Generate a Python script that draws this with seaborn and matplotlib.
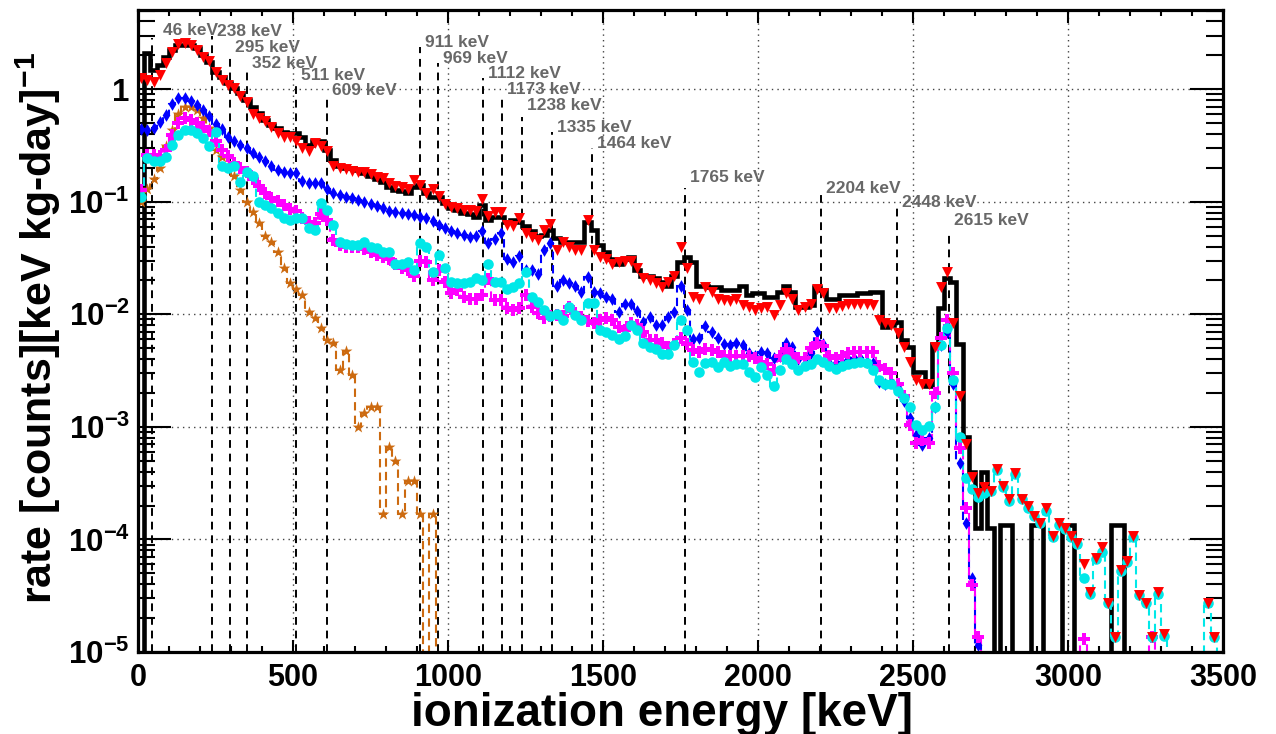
import numpy as np
import matplotlib
matplotlib.use("Agg")
import matplotlib.pyplot as plt
import seaborn as sns
from matplotlib.ticker import MultipleLocator, LogLocator, FuncFormatter, NullFormatter

# ---------------- data ----------------
bin_width = 20  # keV
energy = np.arange(175) * bin_width + bin_width / 2
edges = np.arange(176) * bin_width

data_rate = [
    0, 2.10, 1.48, 1.64, 1.93, 2.23, 2.47, 2.47, 2.47, 2.32,
    2.01, 1.75, 1.42, 1.28, 1.14, 1.02, 0.92, 0.80, 0.69, 0.61,
    0.53, 0.48, 0.45, 0.42, 0.41, 0.41, 0.375, 0.32, 0.35, 0.35,
    0.29, 0.235, 0.21, 0.20, 0.20, 0.19, 0.18, 0.17, 0.16, 0.15,
    0.135, 0.127, 0.125, 0.12, 0.135, 0.14, 0.12, 0.11, 0.11, 0.097,
    0.088, 0.084, 0.079, 0.078, 0.073, 0.093, 0.069, 0.073, 0.074, 0.066,
    0.069, 0.066, 0.061, 0.055, 0.050, 0.051, 0.056, 0.048, 0.044, 0.044,
    0.044, 0.044, 0.066, 0.056, 0.041, 0.036, 0.031, 0.028, 0.031, 0.032,
    0.025, 0.022, 0.022, 0.021, 0.0195, 0.018, 0.022, 0.029, 0.032, 0.029,
    0.0177, 0.0177, 0.0175, 0.0175, 0.0164, 0.0164, 0.0164, 0.018, 0.0149, 0.0155,
    0.0155, 0.0144, 0.0144, 0.0158, 0.0177, 0.0158, 0.0116, 0.0116, 0.0121, 0.0175,
    0.0164, 0.0138, 0.0138, 0.0149, 0.0149, 0.0149, 0.0155, 0.0155, 0.0158, 0.0158,
    0.0077, 0.0080, 0.0085, 0.0059, 0.0051, 0.0031, 0.0031, 0.0023, 0.0054, 0.0113,
    0.021, 0.0195, 0.0054, 8.1e-4, 4.0e-4, 1.26e-4, 4.0e-4, 1.26e-4, 0, 1.34e-4,
    1.34e-4, 0, 0, 0, 1.34e-4, 1.34e-4, 0, 0, 0, 1.34e-4,
    1.34e-4, 0, 0, 0, 0, 0, 0, 1.34e-4, 1.34e-4, 0,
    0, 0, 0, 0, 0, 0, 0, 0, 0, 0,
    0, 0, 0, 0, 0,
]

total_mc = [
    1.26, 1.21, 1.16, 1.34, 1.71, 2.14, 2.52, 2.57, 2.47, 2.23,
    1.93, 1.78, 1.42, 1.21, 1.09, 1.02, 0.87, 0.77, 0.60, 0.555,
    0.52, 0.46, 0.41, 0.38, 0.375, 0.35, 0.30, 0.28, 0.33, 0.31,
    0.28, 0.21, 0.20, 0.195, 0.187, 0.183, 0.183, 0.176, 0.166, 0.163,
    0.146, 0.138, 0.135, 0.129, 0.156, 0.14, 0.119, 0.129, 0.113, 0.095,
    0.090, 0.088, 0.084, 0.084, 0.083, 0.106, 0.075, 0.081, 0.081, 0.062,
    0.061, 0.072, 0.053, 0.049, 0.046, 0.056, 0.063, 0.037, 0.044, 0.040,
    0.037, 0.037, 0.069, 0.037, 0.032, 0.031, 0.028, 0.029, 0.030, 0.030,
    0.026, 0.021, 0.020, 0.019, 0.0175, 0.0195, 0.022, 0.040, 0.026, 0.0142,
    0.0136, 0.0175, 0.0158, 0.0138, 0.0134, 0.0132, 0.0138, 0.0121, 0.0116, 0.0109,
    0.0113, 0.0116, 0.0098, 0.0121, 0.0155, 0.0138, 0.0109, 0.0116, 0.0124, 0.0167,
    0.0155, 0.0113, 0.0113, 0.0118, 0.0123, 0.0124, 0.0124, 0.0124, 0.0121, 0.0089,
    0.0084, 0.0080, 0.0068, 0.0051, 0.0038, 0.0026, 0.0024, 0.0024, 0.0051, 0.0175,
    0.024, 0.0084, 0.0019, 7.0e-4, 3.6e-4, 2.6e-4, 2.9e-4, 2.7e-4, 4.2e-4, 3.0e-4,
    2.3e-4, 3.9e-4, 2.3e-4, 2.0e-4, 1.6e-4, 1.4e-4, 1.9e-4, 1.07e-4, 1.4e-4, 1.26e-4,
    1.07e-4, 9.3e-5, 6.0e-5, 3.4e-5, 6.9e-5, 8.5e-5, 2.7e-5, 1.35e-5, 5.3e-5, 6.5e-5,
    1.07e-4, 3.2e-5, 2.7e-5, 1.35e-5, 3.4e-5, 1.46e-5, 0, 0, 0, 0,
    0, 0, 2.7e-5, 1.35e-5, 0,
]

blue_mc = [
    0.44, 0.43, 0.45, 0.51, 0.59, 0.74, 0.835, 0.835, 0.785, 0.72,
    0.65, 0.58, 0.49, 0.44, 0.38, 0.35, 0.32, 0.30, 0.27, 0.25,
    0.23, 0.21, 0.19, 0.183, 0.18, 0.18, 0.153, 0.146, 0.146, 0.146,
    0.129, 0.119, 0.114, 0.11, 0.108, 0.104, 0.099, 0.095, 0.092, 0.088,
    0.083, 0.081, 0.079, 0.078, 0.076, 0.073, 0.072, 0.067, 0.062, 0.058,
    0.055, 0.053, 0.051, 0.049, 0.050, 0.055, 0.043, 0.047, 0.053, 0.031,
    0.029, 0.033, 0.025, 0.025, 0.023, 0.037, 0.043, 0.018, 0.020, 0.019,
    0.018, 0.0158, 0.0213, 0.0158, 0.0155, 0.0144, 0.0138, 0.0105, 0.0124, 0.0124,
    0.0107, 0.0085, 0.0094, 0.0080, 0.0080, 0.0094, 0.0105, 0.018, 0.0109, 0.0061,
    0.0062, 0.0079, 0.0069, 0.0062, 0.0055, 0.0053, 0.0056, 0.0053, 0.0045, 0.0043,
    0.0046, 0.0045, 0.0041, 0.0043, 0.0056, 0.0051, 0.0040, 0.0041, 0.0045, 0.0069,
    0.0055, 0.0037, 0.0037, 0.0038, 0.0040, 0.0041, 0.0041, 0.0038, 0.0037, 0.0025,
    0.0024, 0.0025, 0.0022, 0.0017, 0.0012, 8.4e-4, 6.9e-4, 7.9e-4, 0.0015, 0.0053,
    0.0069, 0.0024, 4.8e-4, 1.4e-4, 4.5e-5, 1.15e-5, 0, 0, 0, 0,
    0, 0, 0, 0, 0, 0, 0, 0, 0, 0,
    0, 0, 0, 0, 0, 0, 0, 0, 0, 0,
    0, 0, 0, 0, 0, 0, 0, 0, 0, 0,
    0, 0, 0, 0, 0,
]

magenta_mc = [
    0.127, 0.26, 0.26, 0.255, 0.29, 0.39, 0.50, 0.555, 0.53, 0.50,
    0.46, 0.425, 0.35, 0.29, 0.255, 0.22, 0.20, 0.183, 0.16, 0.138,
    0.119, 0.108, 0.101, 0.094, 0.086, 0.083, 0.072, 0.066, 0.065, 0.078,
    0.069, 0.046, 0.041, 0.040, 0.040, 0.040, 0.038, 0.036, 0.034, 0.032,
    0.031, 0.028, 0.026, 0.025, 0.022, 0.030, 0.029, 0.020, 0.025, 0.0195,
    0.0155, 0.0164, 0.0144, 0.0138, 0.0138, 0.0149, 0.0205, 0.0134, 0.0134, 0.0113,
    0.0109, 0.0113, 0.0149, 0.0116, 0.0102, 0.0093, 0.0096, 0.0098, 0.0096, 0.0116,
    0.0102, 0.0094, 0.0087, 0.0084, 0.0089, 0.0093, 0.0089, 0.0077, 0.0072, 0.0084,
    0.0080, 0.0069, 0.0059, 0.0059, 0.0056, 0.0051, 0.0055, 0.0062, 0.0055, 0.0048,
    0.0046, 0.0049, 0.0048, 0.0046, 0.0043, 0.0043, 0.0043, 0.0043, 0.0043, 0.0041,
    0.0038, 0.0036, 0.0032, 0.0043, 0.0049, 0.0044, 0.0041, 0.0041, 0.0050, 0.0056,
    0.0052, 0.0043, 0.0041, 0.0043, 0.0045, 0.0046, 0.0046, 0.0046, 0.0046, 0.0035,
    0.0033, 0.0030, 0.0024, 0.0019, 0.00104, 7.2e-4, 7.6e-4, 7.2e-4, 0.0020, 0.0062,
    0.0089, 0.0030, 6.5e-4, 1.9e-4, 3.9e-5, 1.35e-5, 0, 0, 0, 0,
    0, 0, 0, 0, 0, 0, 0, 0, 0, 0,
    0, 0, 1.3e-5, 0, 0, 0, 0, 0, 0, 0,
    0, 0, 0, 1.35e-5, 0, 0, 0, 0, 0, 0,
    0, 0, 0, 0, 0,
]

cyan_mc = [
    0.11, 0.245, 0.23, 0.23, 0.25, 0.32, 0.39, 0.43, 0.43, 0.41,
    0.37, 0.31, 0.42, 0.21, 0.20, 0.21, 0.15, 0.183, 0.17, 0.099,
    0.094, 0.088, 0.079, 0.072, 0.069, 0.072, 0.072, 0.058, 0.056, 0.097,
    0.084, 0.062, 0.044, 0.042, 0.041, 0.041, 0.044, 0.040, 0.039, 0.036,
    0.036, 0.028, 0.028, 0.029, 0.025, 0.043, 0.040, 0.024, 0.034, 0.026,
    0.0195, 0.019, 0.019, 0.0195, 0.021, 0.020, 0.028, 0.0195, 0.0195, 0.0167,
    0.0174, 0.019, 0.024, 0.0144, 0.0130, 0.0109, 0.0096, 0.0100, 0.0089, 0.0116,
    0.0098, 0.0089, 0.0127, 0.0127, 0.0072, 0.0070, 0.0066, 0.0061, 0.0064, 0.0080,
    0.0072, 0.0056, 0.0051, 0.0049, 0.0044, 0.0044, 0.0053, 0.0089, 0.0072, 0.0038,
    0.0031, 0.0037, 0.0038, 0.0034, 0.0038, 0.0035, 0.0036, 0.0036, 0.0031, 0.0028,
    0.0034, 0.0029, 0.0023, 0.0032, 0.0040, 0.0036, 0.0032, 0.0035, 0.0036, 0.0040,
    0.0038, 0.0035, 0.0033, 0.0035, 0.0036, 0.0037, 0.0038, 0.0037, 0.0032, 0.0026,
    0.0024, 0.0024, 0.0021, 0.0018, 0.0015, 0.00104, 9.3e-4, 0.00101, 0.0015, 0.0053,
    0.0075, 0.0026, 8.1e-4, 3.5e-4, 2.8e-4, 2.4e-4, 2.6e-4, 2.7e-4, 4.1e-4, 2.9e-4,
    2.2e-4, 3.8e-4, 2.3e-4, 1.9e-4, 1.6e-4, 1.4e-4, 1.8e-4, 1.05e-4, 1.34e-4, 1.24e-4,
    1.05e-4, 9.1e-5, 4.5e-5, 3.3e-5, 6.7e-5, 7.7e-5, 2.7e-5, 1.35e-5, 5.2e-5, 6.3e-5,
    1.05e-4, 3.2e-5, 2.7e-5, 1.35e-5, 3.3e-5, 1.4e-5, 0, 0, 0, 0,
    0, 0, 2.7e-5, 1.35e-5, 0,
]

orange_mc = [
    0.10, 0.13, 0.16, 0.20, 0.31, 0.43, 0.60, 0.69, 0.69, 0.65,
    0.555, 0.45, 0.29, 0.25, 0.21, 0.17, 0.127, 0.099, 0.081, 0.065,
    0.050, 0.044, 0.036, 0.026, 0.019, 0.0167, 0.0149, 0.0105, 0.0093, 0.0075,
    0.0059, 0.0056, 0.0032, 0.0047, 0.0029, 0.0010, 0.00133, 0.0015, 0.0015, 1.7e-4,
    6.6e-4, 5.0e-4, 1.7e-4, 3.3e-4, 3.3e-4, 1.7e-4, 0, 1.7e-4, 0, 0,
] + [0] * 125

line_energies = [46, 238, 295, 352, 511, 609, 911, 969, 1112, 1173,
                 1238, 1335, 1464, 1765, 2204, 2448, 2615]
line_tops = [2.85, 3.0, 1.89, 1.42, 1.13, 0.85, 2.37, 1.71, 1.26, 0.91,
             0.566, 0.416, 0.30, 0.132, 0.12, 0.09, 0.055]
line_labels = [f"{e} keV" for e in line_energies]

# label placement relative to the top of each marker line (pixels)
label_dx_px = [11, 5, 5, 5, 5, 5, 5, 5, 5, 5, 5, 5, 5, 5, 5, 5, 5]
label_gap_px = [3, 0, 6, 4, 3, 2, 0, 0, 0, 0, 7, 0, 0, 6, 0, 0, 6]

xlabel = "ionization energy [keV]"
ylabel = r"rate [counts][keV kg-day]$^{\mathbf{-1}}$"

# ---------------- style ----------------
sns.set_style("ticks")
plt.rcParams["font.family"] = ["Liberation Sans", "DejaVu Sans"]
plt.rcParams["font.weight"] = "bold"
plt.rcParams["mathtext.fontset"] = "custom"
plt.rcParams["mathtext.rm"] = "Liberation Sans:bold"
plt.rcParams["mathtext.bf"] = "Liberation Sans:bold"
plt.rcParams["mathtext.it"] = "Liberation Sans:bold"
for key in ["text.color", "axes.labelcolor", "xtick.color", "ytick.color",
            "xtick.labelcolor", "ytick.labelcolor", "axes.edgecolor"]:
    plt.rcParams[key] = "black"

fig = plt.figure(figsize=(12.76, 7.34), dpi=100)
ax = fig.add_axes([0.1082, 0.1117, 0.8503, 0.8747])
ax.set_yscale("log")
ax.set_xlim(0, 3500)
ax.set_ylim(1e-5, 5.06)

floor = 1e-9
px = 72.0 / 100.0  # points per pixel

# energy marker lines
ax.vlines(line_energies, 1e-5, line_tops, colors="black",
          linestyles=(0, (4, 3)), lw=1.4, zorder=2)
for e, t, lab, dx, gap in zip(line_energies, line_tops, line_labels,
                              label_dx_px, label_gap_px):
    ax.annotate(lab, xy=(e, t), xytext=(dx * px, gap * px),
                textcoords="offset points", ha="left", va="baseline",
                fontsize=12.5, fontweight="bold", color="#686868", zorder=8)

# data histogram
dv = np.asarray(data_rate, float)
ax.stairs(np.where(dv > 0, dv, floor), edges, baseline=floor,
          color="black", lw=3.3, zorder=3)

series = [
    (orange_mc, "#cc6a10", "*", 80),
    (blue_mc, "#0000ff", "d", 42),
    (magenta_mc, "#ff00ff", "P", 70),
    (cyan_mc, "#00e8e8", "o", 58),
]
for vals, col, mk, sz in series:
    v = np.asarray(vals, float)
    ax.stairs(np.where(v > 0, v, floor), edges, baseline=floor, color=col,
              lw=1.5, linestyle=(0, (4, 2.5)), zorder=4)
    m = v > 0
    sns.scatterplot(x=energy[m], y=v[m], marker=mk, s=sz, color=col,
                    linewidth=0, ax=ax, zorder=5, legend=False)

tv = np.asarray(total_mc, float)
m = tv > 0
sns.scatterplot(x=energy[m], y=tv[m], marker="v", s=62, color="#ff0000",
                linewidth=0, ax=ax, zorder=6, legend=False)

# ---------------- axes ----------------
ax.xaxis.set_major_locator(MultipleLocator(500))
ax.xaxis.set_minor_locator(MultipleLocator(100))
ax.yaxis.set_major_locator(LogLocator(base=10, numticks=20))
ax.yaxis.set_minor_locator(LogLocator(base=10, subs=np.arange(2, 10), numticks=200))
ax.yaxis.set_minor_formatter(NullFormatter())


def yfmt(v, pos):
    e = int(round(np.log10(v)))
    if e == 0:
        return "1"
    return r"$\mathbf{10^{%d}}$" % e


ax.yaxis.set_major_formatter(FuncFormatter(yfmt))
ax.xaxis.set_major_formatter(FuncFormatter(lambda v, p: f"{int(v)}"))

ax.tick_params(axis="both", which="both", direction="in", top=True, right=True,
               width=1.5, color="black", labelcolor="black")
ax.tick_params(axis="y", which="major", length=24, pad=6, labelsize=22.5)
ax.tick_params(axis="y", which="minor", length=12)
ax.tick_params(axis="x", which="major", length=9, pad=8, labelsize=22)
ax.tick_params(axis="x", which="minor", length=4.5)

ax.grid(True, which="major", axis="both", linestyle=(0, (1, 3)),
        color="#444444", lw=1.0, zorder=1)
for s in ax.spines.values():
    s.set_linewidth(2.3)
    s.set_color("black")
    s.set_zorder(10)

ax.set_xlabel(xlabel, fontsize=33, fontweight="bold", va="top", color="black")
ax.xaxis.set_label_coords(0.483, -0.062)
ax.set_ylabel(ylabel, fontsize=31, fontweight="bold", color="black")
ax.yaxis.set_label_coords(-0.069, 0.505)

fig.savefig("out.png", dpi=100)
